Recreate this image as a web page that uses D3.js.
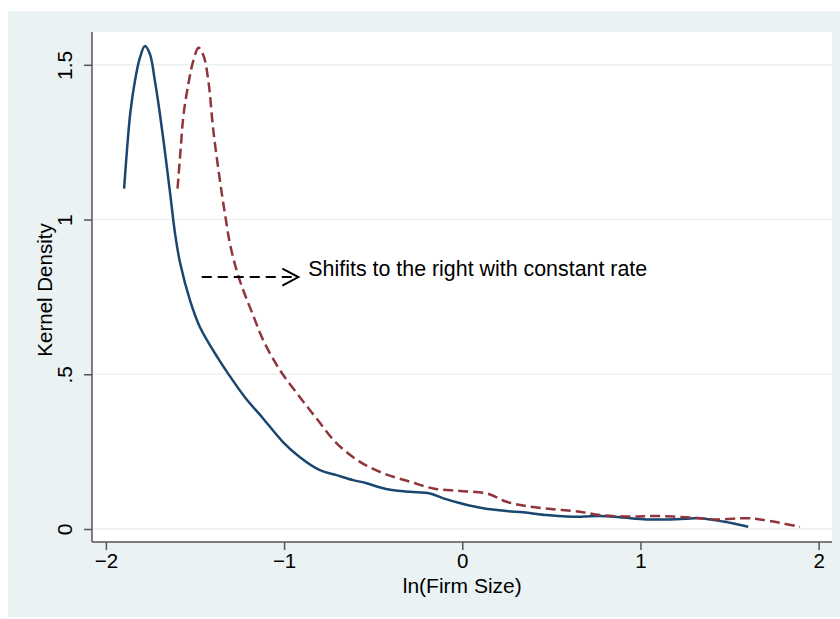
<!DOCTYPE html>
<html>
<head>
<meta charset="utf-8">
<script src="https://cdn.jsdelivr.net/npm/d3@7"></script>
<style>
  body { margin: 0; background: #fff; }
  text { font-family: "Liberation Sans", Arial, Helvetica, sans-serif; fill: #000; }
</style>
</head>
<body>
<div id="chart"></div>
<script>
/* densité de noyau de la taille des firmes, deux périodes
 * (la deuxième décalée vers la droite) -- style stata s2color */

// courbe pleine (bleue)
const bleuX = [-1.898, -1.881, -1.863, -1.837, -1.809, -1.781, -1.753, -1.725, -1.697, -1.668,
    -1.640, -1.612, -1.584, -1.528, -1.472, -1.371, -1.315, -1.220, -1.119, -1.006,
    -0.911, -0.799, -0.705, -0.612, -0.537, -0.465, -0.396, -0.294, -0.181, -0.106,
    0.006, 0.118, 0.249, 0.342, 0.474, 0.586, 0.679, 0.773, 0.885, 1.035,
    1.147, 1.250, 1.334, 1.465, 1.605]
const bleuY = [1.100, 1.230, 1.345, 1.448, 1.523, 1.561, 1.535, 1.448, 1.342, 1.216,
    1.087, 0.955, 0.861, 0.739, 0.652, 0.552, 0.503, 0.426, 0.358, 0.281,
    0.232, 0.190, 0.174, 0.158, 0.148, 0.135, 0.126, 0.120, 0.115, 0.099,
    0.081, 0.067, 0.058, 0.054, 0.045, 0.040, 0.040, 0.042, 0.038, 0.031,
    0.031, 0.033, 0.035, 0.024, 0.007]

// courbe pointillée (bordeaux)
const rougeX = [-1.598, -1.581, -1.565, -1.536, -1.508, -1.480, -1.452, -1.425, -1.397, -1.360,
    -1.332, -1.304, -1.266, -1.225, -1.180, -1.117, -1.023, -0.911, -0.811, -0.705,
    -0.574, -0.443, -0.294, -0.163, -0.013, 0.137, 0.249, 0.361, 0.511, 0.660,
    0.773, 0.960, 1.072, 1.259, 1.428, 1.596, 1.671, 1.783, 1.895]
const rougeY = [1.100, 1.223, 1.335, 1.442, 1.516, 1.555, 1.529, 1.448, 1.287, 1.126,
    1.019, 0.923, 0.835, 0.765, 0.700, 0.610, 0.513, 0.426, 0.352, 0.277,
    0.217, 0.180, 0.153, 0.131, 0.123, 0.115, 0.088, 0.074, 0.064, 0.056,
    0.045, 0.040, 0.042, 0.038, 0.031, 0.035, 0.031, 0.020, 0.007]

// graduations
const ticksX = [-2, -1, 0, 1, 2]
const labelsX = ["\u22122", "\u22121", "0", "1", "2"]
const ticksY = [0, 0.5, 1, 1.5]
const labelsY = ["0", ".5", "1", "1.5"]

// flèche + note
const fleche = {x0: -1.462, x1: -0.920, y: 0.814}
const note = "Shifits to the right with constant rate"

const W = 840, H = 619
const plot = {left: 92, right: 832, top: 32, bottom: 542}

const svg = d3.select("#chart").append("svg")
    .attr("width", W)
    .attr("height", H)

/* fond gris-bleu de stata, puis la zone blanche du graphe */
svg.append("rect")
    .attr("x", 8).attr("y", 11)
    .attr("width", W - 8).attr("height", 606)
    .attr("fill", "#eaf2f3")
svg.append("rect")
    .attr("x", plot.left).attr("y", plot.top)
    .attr("width", plot.right - plot.left).attr("height", plot.bottom - plot.top)
    .attr("fill", "#fff")

const x = d3.scaleLinear()
    .domain([-2.078, 2.075])
    .range([plot.left, plot.right])
const y = d3.scaleLinear()
    .domain([-0.042, 1.606])
    .range([plot.bottom, plot.top])

/* lignes de grille */
svg.append("g")
    .selectAll("line")
    .data(ticksY)
    .join("line")
    .attr("x1", plot.left).attr("x2", plot.right)
    .attr("y1", d => y(d)).attr("y2", d => y(d))
    .attr("stroke", "#eaf2f3")
    .attr("stroke-width", 1.6)

/* axe horizontal */
const axeX = svg.append("g")
    .attr("transform", "translate(0," + plot.bottom + ")")
    .call(d3.axisBottom(x)
        .tickValues(ticksX)
        .tickFormat((d, i) => labelsX[i])
        .tickSize(8)
        .tickSizeOuter(0)
        .tickPadding(3.5))
axeX.select(".domain").attr("stroke", "#555").attr("stroke-width", 1.5)
    .attr("d", "M" + plot.left + ",0H" + plot.right)
axeX.selectAll(".tick line").attr("stroke", "#555").attr("stroke-width", 1.5)
axeX.selectAll(".tick text")
    .style("font-family", "'Liberation Sans', Arial, sans-serif")
    .style("font-size", "20.5px")
    .attr("fill", "#000")

/* axe vertical: étiquettes tournées comme dans stata */
const axeY = svg.append("g")
    .attr("transform", "translate(" + plot.left + ",0)")
    .call(d3.axisLeft(y)
        .tickValues(ticksY)
        .tickFormat((d, i) => labelsY[i])
        .tickSize(8)
        .tickSizeOuter(0))
axeY.select(".domain").attr("stroke", "#555").attr("stroke-width", 1.5)
    .attr("d", "M0," + plot.top + "V" + plot.bottom)
axeY.selectAll(".tick line").attr("stroke", "#555").attr("stroke-width", 1.5)
axeY.selectAll(".tick text")
    .attr("x", null).attr("dy", null)
    .attr("text-anchor", "middle")
    .attr("transform", "translate(-20,0) rotate(-90)")
    .style("font-family", "'Liberation Sans', Arial, sans-serif")
    .style("font-size", "21px")
    .attr("fill", "#000")

/* titres des axes */
svg.append("text")
    .attr("x", x(0))
    .attr("y", 593)
    .attr("text-anchor", "middle")
    .style("font-size", "21px")
    .text("ln(Firm Size)")
svg.append("text")
    .attr("transform", "translate(52," + ((plot.top + plot.bottom) / 2 + 3) + ") rotate(-90)")
    .attr("text-anchor", "middle")
    .style("font-size", "20.5px")
    .text("Kernel Density")

/* les deux densités */
const ligne = d3.line()
    .x(d => x(d[0]))
    .y(d => y(d[1]))
    .curve(d3.curveCatmullRom)

svg.append("path")
    .datum(bleuX.map((v, i) => [v, bleuY[i]]))
    .attr("d", ligne)
    .attr("fill", "none")
    .attr("stroke", "#1a476f")
    .attr("stroke-width", 2.5)

svg.append("path")
    .datum(rougeX.map((v, i) => [v, rougeY[i]]))
    .attr("d", ligne)
    .attr("fill", "none")
    .attr("stroke", "#90353b")
    .attr("stroke-width", 2.5)
    .attr("stroke-dasharray", "10,5")

/* flèche pointillée et note */
svg.append("line")
    .attr("x1", x(fleche.x0)).attr("x2", x(fleche.x1) - 2)
    .attr("y1", y(fleche.y)).attr("y2", y(fleche.y))
    .attr("stroke", "#000")
    .attr("stroke-width", 2)
    .attr("stroke-dasharray", "10,6")
svg.append("path")
    .attr("d", "M" + (x(fleche.x1) - 16) + "," + (y(fleche.y) - 8.5)
        + "L" + x(fleche.x1) + "," + y(fleche.y)
        + "L" + (x(fleche.x1) - 16) + "," + (y(fleche.y) + 8.5))
    .attr("fill", "none")
    .attr("stroke", "#000")
    .attr("stroke-width", 2)

svg.append("text")
    .attr("x", x(fleche.x1) + 10)
    .attr("y", y(fleche.y) - 1)
    .style("font-size", "21.4px")
    .text(note)
</script>
</body>
</html>
